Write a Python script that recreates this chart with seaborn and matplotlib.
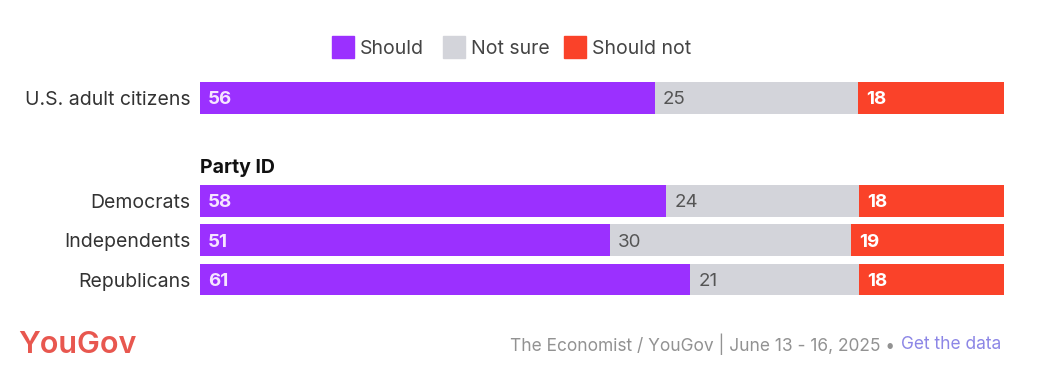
import pandas as pd
import numpy as np
import matplotlib
matplotlib.use("Agg")
import matplotlib.pyplot as plt
from matplotlib.patches import Rectangle
import seaborn as sns

# data
groups = ["U.S. adult citizens", "Democrats", "Independents", "Republicans"]
should = [56, 58, 51, 61]
not_sure = [25, 24, 30, 21]
should_not = [18, 18, 19, 18]
answers = ["Should", "Not sure", "Should not"]

# layout
row_pos = [0, 2.6, 3.6, 4.6]
header_pos = 1.72
colors = {"Should": "#9b30ff", "Not sure": "#d3d4da", "Should not": "#fa4229"}
value_colors = {"Should": "#f6e4ff", "Not sure": "#555555", "Should not": "#ffffff"}
value_weights = {"Should": "bold", "Not sure": "normal", "Should not": "bold"}
text_nudge = 0.05  # Inter sits a touch high with va="center"

sns.set_theme(style="white")
plt.rcParams["font.family"] = ["Inter", "DejaVu Sans"]

df = pd.DataFrame({"group": groups, "pos": row_pos,
                   "Should": should, "Not sure": not_sure, "Should not": should_not})
total = df[answers].sum(axis=1)
# bars are stretched to the full width (shares of the row total)
share = df[answers].div(total, axis=0) * 100
cum = share.cumsum(axis=1)
left = cum - share

fig = plt.figure(figsize=(10.51, 3.73), dpi=100)
ax = fig.add_axes([200 / 1051, 1 - 295.5 / 373, 804 / 1051, 213.3 / 373])

# stacked bars: draw cumulative totals back to front
for ans in reversed(answers):
    sns.barplot(x=cum[ans], y=df["pos"], orient="y", native_scale=True,
                color=colors[ans], saturation=1, width=0.8, linewidth=0, ax=ax)

for i, row in df.iterrows():
    for ans in answers:
        ax.text(left.loc[i, ans] + 1.0, row["pos"] + text_nudge, str(row[ans]),
                va="center", ha="left", fontsize=13.5, color=value_colors[ans],
                fontweight=value_weights[ans])
    ax.text(-1.2, row["pos"] + text_nudge, row["group"], va="center", ha="right",
            fontsize=14, color="#333333")

ax.text(0, header_pos + text_nudge, "Party ID", va="center", ha="left", fontsize=14,
        fontweight="bold", color="#111111")

ax.set_xlim(0, 100)
ax.set_ylim(5.0, -0.4)
ax.set_xlabel("")
ax.set_ylabel("")
ax.set_xticks([])
ax.set_yticks([])
sns.despine(ax=ax, left=True, bottom=True)

# legend row
leg_x = [332, 443, 564]
for ans, x in zip(answers, leg_x):
    fig.patches.append(Rectangle((x / 1051, 1 - 58 / 373), 22 / 1051, 22 / 373,
                                 transform=fig.transFigure, color=colors[ans]))
    fig.text((x + 28) / 1051, 1 - 48.5 / 373, ans, va="center", ha="left",
             fontsize=14, color="#444444")

# footer
fig.text(18 / 1051, 1 - 345 / 373, "YouGov", va="center", ha="left",
         fontsize=22, color="#e8574f", fontweight="semibold")
fig.text(895 / 1051, 1 - 344.5 / 373, "The Economist / YouGov | June 13 - 16, 2025 \u2022",
         va="center", ha="right", fontsize=12.5, color="#929292")
fig.text(901 / 1051, 1 - 344.5 / 373, "Get the data", va="center", ha="left",
         fontsize=12.5, color="#8c86e6")

fig.savefig("out.png", dpi=100, facecolor="white")
